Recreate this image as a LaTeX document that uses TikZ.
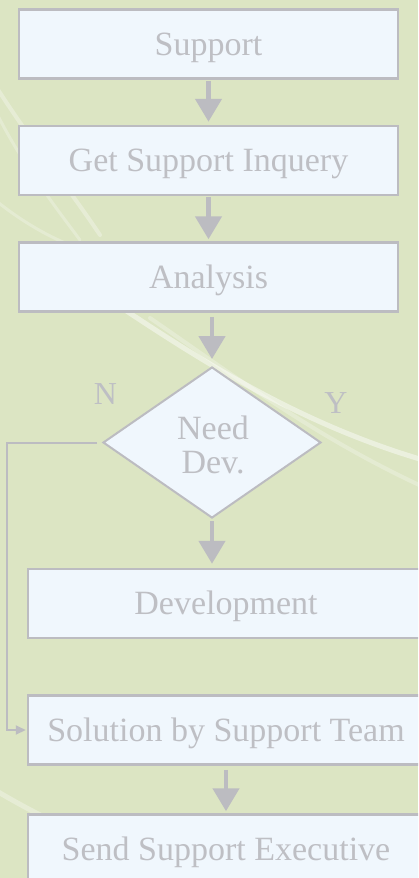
\documentclass[tikz,border=0pt]{standalone}
\usepackage{fontspec}
\setmainfont{Liberation Serif}
\usetikzlibrary{arrows.meta,shapes.geometric}
\definecolor{bgcol}{HTML}{DCE5C3}
\definecolor{boxfill}{HTML}{F0F7FD}
\definecolor{linegray}{HTML}{BCBCC1}
\definecolor{txtgray}{HTML}{BEBFC4}
\tikzset{
  box/.style={draw=linegray, line width=2.5pt, fill=boxfill, rectangle, inner sep=0pt,
    minimum height=69pt, text=txtgray, font=\fontsize{34}{34}\selectfont,
    text height=22pt, text depth=0pt},
  dia/.style={draw=linegray, line width=2pt, fill=boxfill, diamond, inner sep=0pt,
    minimum width=218pt, minimum height=151pt},
  txt/.style={text=txtgray, font=\fontsize{34}{34}\selectfont, inner sep=0pt},
  lbl/.style={text=txtgray, font=\fontsize{32}{32}\selectfont, inner sep=0pt},
  bigarrow/.style={draw=linegray, line width=4.7pt, -{Triangle[width=26pt,length=23pt]}},
  smallarrow/.style={draw=linegray, line width=2pt, -{Triangle[width=9pt,length=10pt]}},
  swoosh/.style={draw=white, line cap=round}
}
\begin{document}
\begin{tikzpicture}[x=1pt,y=-1pt]
\useasboundingbox (0,0) rectangle (418,878);
\clip (0,0) rectangle (418,878);
\fill[bgcol] (0,0) rectangle (418,878);
% background decoration
\draw[swoosh, opacity=0.45, line width=5pt] (110,300) .. controls (200,360) and (300,425) .. (430,462);
\draw[swoosh, opacity=0.25, line width=4pt] (150,318) .. controls (240,380) and (320,440) .. (430,490);
\draw[swoosh, opacity=0.3, line width=4pt] (-5,85) .. controls (30,140) and (70,190) .. (100,235);
\draw[swoosh, opacity=0.25, line width=3pt] (-5,110) .. controls (20,160) and (50,200) .. (80,240);
\draw[swoosh, opacity=0.25, line width=3pt] (-5,200) .. controls (20,220) and (45,235) .. (70,245);
\draw[swoosh, opacity=0.3, line width=5pt] (-5,790) .. controls (20,805) and (40,815) .. (60,825);
% nodes
\node[box, minimum width=379pt] (b1) at (208.5,44) {Support};
\node[box, minimum width=379pt] (b2) at (208.5,160.5) {Get Support Inquery};
\node[box, minimum width=379pt] (b3) at (208.5,277) {Analysis};
\node[dia] (d) at (212,442.5) {};
\node[txt, align=center] (dt) at (213,445) {Need\\Dev.};
\node[lbl, anchor=base] (nl) at (105.5,404) {N};
\node[lbl, anchor=base] (yl) at (336,413) {Y};
\node[box, minimum width=396pt] (b4) at (226,603.5) {Development};
\node[box, minimum width=396pt] (b5) at (226,730) {Solution by Support Team};
\node[box, minimum width=396pt] (b6) at (226,849) {Send Support Executive};
\coordinate (c1) at (7,442.5);
% connectors
\draw[bigarrow, shorten <=1pt, shorten >=3pt] (b1.south) -- (b2.north);
\draw[bigarrow, shorten <=1pt, shorten >=2pt] (b2.south) -- (b3.north);
\draw[bigarrow, shorten <=4pt, shorten >=7pt] (b3.south -| d.north) -- (d.north);
\draw[bigarrow, shorten <=2pt, shorten >=4pt] (d.south) -- (b4.north -| d.south);
\draw[bigarrow, shorten <=4pt, shorten >=2pt] (b5.south) -- (b6.north);
\draw[smallarrow, shorten <=5pt, shorten >=1pt] (d.west) -- (c1) |- (b5.west);
\end{tikzpicture}
\end{document}
